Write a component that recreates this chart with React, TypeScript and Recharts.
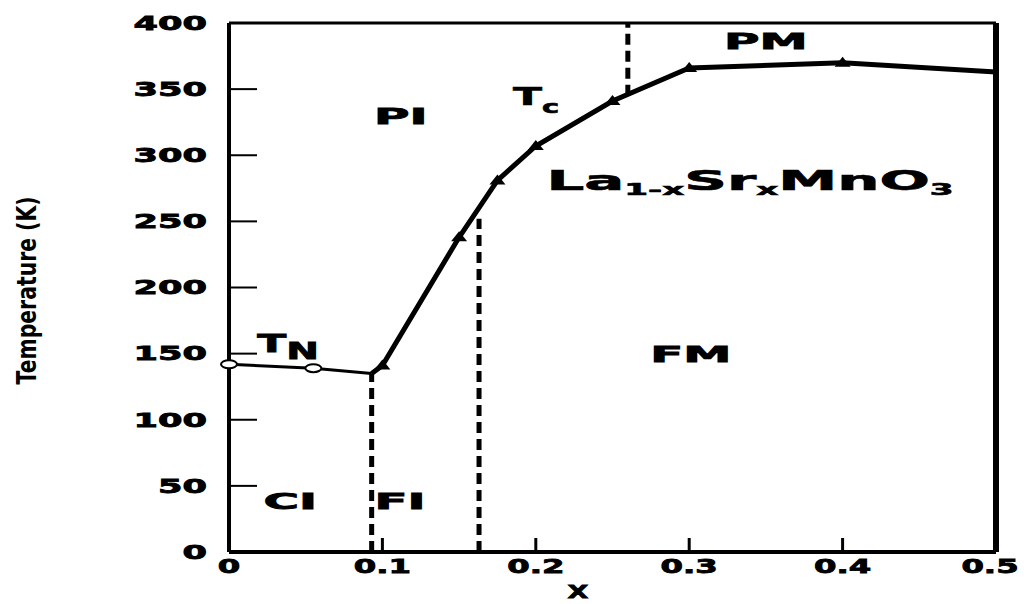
import React from "react";
import { ComposedChart, Line, XAxis, YAxis, ReferenceDot } from "recharts";

// axis ticks
const xTicks = [0, 0.1, 0.2, 0.3, 0.4, 0.5];
const yTicks = [0, 50, 100, 150, 200, 250, 300, 350, 400];

// Néel temperature T_N (open markers)
const tnX = [0, 0.055, 0.093];
const tnT = [142, 139, 135];
const tnMarked = [true, true, false];

// Curie temperature T_C (filled triangles)
const tcX = [0.093, 0.1, 0.15, 0.175, 0.2, 0.25, 0.3, 0.4, 0.5];
const tcT = [135, 141, 238, 281, 307, 341, 366, 370, 363];
const tcMarked = [false, true, true, true, true, true, true, true, false];

// dashed phase boundaries: x, lower T, upper T
const boundaryX = [0.093, 0.163, 0.26];
const boundaryLow = [0, 0, 345];
const boundaryHigh = [135, 252, 400];

// phase region names and where they sit (data coords)
const regionNames = ["PI", "FM", "CI", "FI", "PM"];
const regionX = [0.112, 0.301, 0.04, 0.1115, 0.35];
const regionT = [330, 150, 38.5, 38.5, 386];

const tnData = tnX.map((x, i) => ({ x, T: tnT[i], m: tnMarked[i] }));
const tcData = tcX.map((x, i) => ({ x, T: tcT[i], m: tcMarked[i] }));
const boundaries = boundaryX.map((x, i) => [
  { x, T: boundaryLow[i] },
  { x, T: boundaryHigh[i] },
]);

const FONT = "'DejaVu Sans', sans-serif";

// squat, wide, heavy lettering like the scanned figure
function Wide({ x, y, anchor = "middle", size = 20, sx = 1.6, children }: any) {
  return (
    <g transform={`translate(${x},${y}) scale(${sx},1)`}>
      <text
        textAnchor={anchor}
        fontFamily={FONT}
        fontWeight="bold"
        fontSize={size}
        fill="#000"
        stroke="#000"
        strokeWidth={0.8}
        dy="0.36em"
      >
        {children}
      </text>
    </g>
  );
}

const yTick = (p: any) => (
  <Wide x={p.x} y={p.y} anchor="end" size={19} sx={1.85}>
    {p.payload.value}
  </Wide>
);

// last label is nudged in so it stays on the page
const xTick = (p: any) => (
  <Wide x={p.index === xTicks.length - 1 ? p.x - 6 : p.x} y={p.y + 8} size={19} sx={1.7}>
    {p.payload.value}
  </Wide>
);

const openDot = (p: any) =>
  p.payload.m ? (
    <ellipse key={p.index} cx={p.cx} cy={p.cy} rx={8} ry={4} fill="#fff" stroke="#000" strokeWidth={2} />
  ) : (
    <g key={p.index} />
  );

const triDot = (p: any) =>
  p.payload.m ? (
    <path
      key={p.index}
      d={`M${p.cx - 8},${p.cy + 4} L${p.cx},${p.cy - 6} L${p.cx + 8},${p.cy + 4} Z`}
      fill="#000"
    />
  ) : (
    <g key={p.index} />
  );

export default function App() {
  return (
    <div style={{ position: "absolute", left: 0, top: 0, background: "#fff" }}>
      <ComposedChart width={1024} height={604} margin={{ top: 22, right: 27, bottom: 0, left: 0 }}>
        <XAxis
          xAxisId="b"
          type="number"
          dataKey="x"
          domain={[0, 0.5]}
          ticks={xTicks}
          interval={0}
          height={52}
          axisLine={{ stroke: "#000", strokeWidth: 4 }}
          tickLine={{ stroke: "#000", strokeWidth: 3 }}
          tickSize={-14}
          tickMargin={20}
          tick={xTick}
          label={{
            content: (p: any) => (
              <Wide x={p.viewBox.x + p.viewBox.width * 0.455} y={p.viewBox.y + 40} size={18} sx={1.5}>
                X
              </Wide>
            ),
          }}
        />
        <XAxis
          xAxisId="t"
          orientation="top"
          type="number"
          dataKey="x"
          domain={[0, 0.5]}
          ticks={xTicks}
          height={1}
          axisLine={{ stroke: "#000", strokeWidth: 3 }}
          tickLine={{ stroke: "#000", strokeWidth: 2 }}
          tickSize={-10}
          tick={false}
        />
        <YAxis
          yAxisId="l"
          type="number"
          domain={[0, 400]}
          ticks={yTicks}
          interval={0}
          width={229}
          axisLine={{ stroke: "#000", strokeWidth: 4 }}
          tickLine={{ stroke: "#000", strokeWidth: 2 }}
          tickSize={-28}
          tickMargin={50}
          tick={yTick}
          label={{
            content: (p: any) => {
              const cx = p.viewBox.x + 26;
              const cy = p.viewBox.y + p.viewBox.height / 2 + 3;
              return (
                <text
                  transform={`translate(${cx},${cy}) rotate(-90)`}
                  textAnchor="middle"
                  dy="0.36em"
                  fontFamily={FONT}
                  fontWeight="bold"
                  fontSize={27}
                  textLength={188}
                  lengthAdjust="spacingAndGlyphs"
                  fill="#000"
                >
                  Temperature (K)
                </text>
              );
            },
          }}
        />
        <YAxis
          yAxisId="r"
          orientation="right"
          type="number"
          domain={[0, 400]}
          ticks={yTicks}
          width={1}
          axisLine={{ stroke: "#000", strokeWidth: 6 }}
          tickLine={{ stroke: "#000", strokeWidth: 2 }}
          tickSize={-28}
          tick={false}
        />

        {boundaries.map((d, i) => (
          <Line
            key={i}
            xAxisId="b"
            yAxisId="l"
            data={d}
            dataKey="T"
            stroke="#000"
            strokeWidth={5}
            strokeDasharray="11 6"
            dot={false}
            isAnimationActive={false}
          />
        ))}
        <Line
          xAxisId="b"
          yAxisId="l"
          data={tnData}
          dataKey="T"
          stroke="#000"
          strokeWidth={3}
          dot={openDot}
          isAnimationActive={false}
        />
        <Line
          xAxisId="b"
          yAxisId="l"
          data={tcData}
          dataKey="T"
          stroke="#000"
          strokeWidth={5}
          dot={triDot}
          isAnimationActive={false}
        />

        {regionNames.map((name, i) => (
          <ReferenceDot
            key={name}
            xAxisId="b"
            yAxisId="l"
            x={regionX[i]}
            y={regionT[i]}
            r={0}
            shape={(p: any) => (
              <Wide x={p.cx} y={p.cy} size={22} sx={2.2}>
                {name}
              </Wide>
            )}
          />
        ))}
        <ReferenceDot
          xAxisId="b"
          yAxisId="l"
          x={0.0385}
          y={158}
          r={0}
          shape={(p: any) => (
            <g transform={`translate(${p.cx},${p.cy}) scale(1.7,1)`}>
              <text fontFamily={FONT} fontWeight="bold" fontSize={25} stroke="#000" strokeWidth={0.8} textAnchor="middle" dy="0.36em">
                T
                <tspan fontSize={23} dy={7}>N</tspan>
              </text>
            </g>
          )}
        />
        <ReferenceDot
          xAxisId="b"
          yAxisId="l"
          x={0.194}
          y={345}
          r={0}
          shape={(p: any) => (
            <g transform={`translate(${p.cx},${p.cy}) scale(1.7,1)`}>
              <text fontFamily={FONT} fontWeight="bold" fontSize={25} stroke="#000" strokeWidth={0.6} textAnchor="start" x={-8} dy="0.36em">
                T
                <tspan fontSize={17} dy={8}>c</tspan>
              </text>
            </g>
          )}
        />
        <ReferenceDot
          xAxisId="b"
          yAxisId="l"
          x={0.207}
          y={274}
          r={0}
          shape={(p: any) => (
            <g transform={`translate(${p.cx},${p.cy}) scale(2.28,1)`}>
              <text fontFamily={FONT} fontWeight="bold" fontSize={26} stroke="#000" strokeWidth={0.6}>
                La
                <tspan fontSize={15} dy={5}>1-x</tspan>
                <tspan fontSize={26} dy={-5}>Sr</tspan>
                <tspan fontSize={15} dy={5}>x</tspan>
                <tspan fontSize={26} dy={-5}>MnO</tspan>
                <tspan fontSize={15} dy={5}>3</tspan>
              </text>
            </g>
          )}
        />
      </ComposedChart>
    </div>
  );
}
